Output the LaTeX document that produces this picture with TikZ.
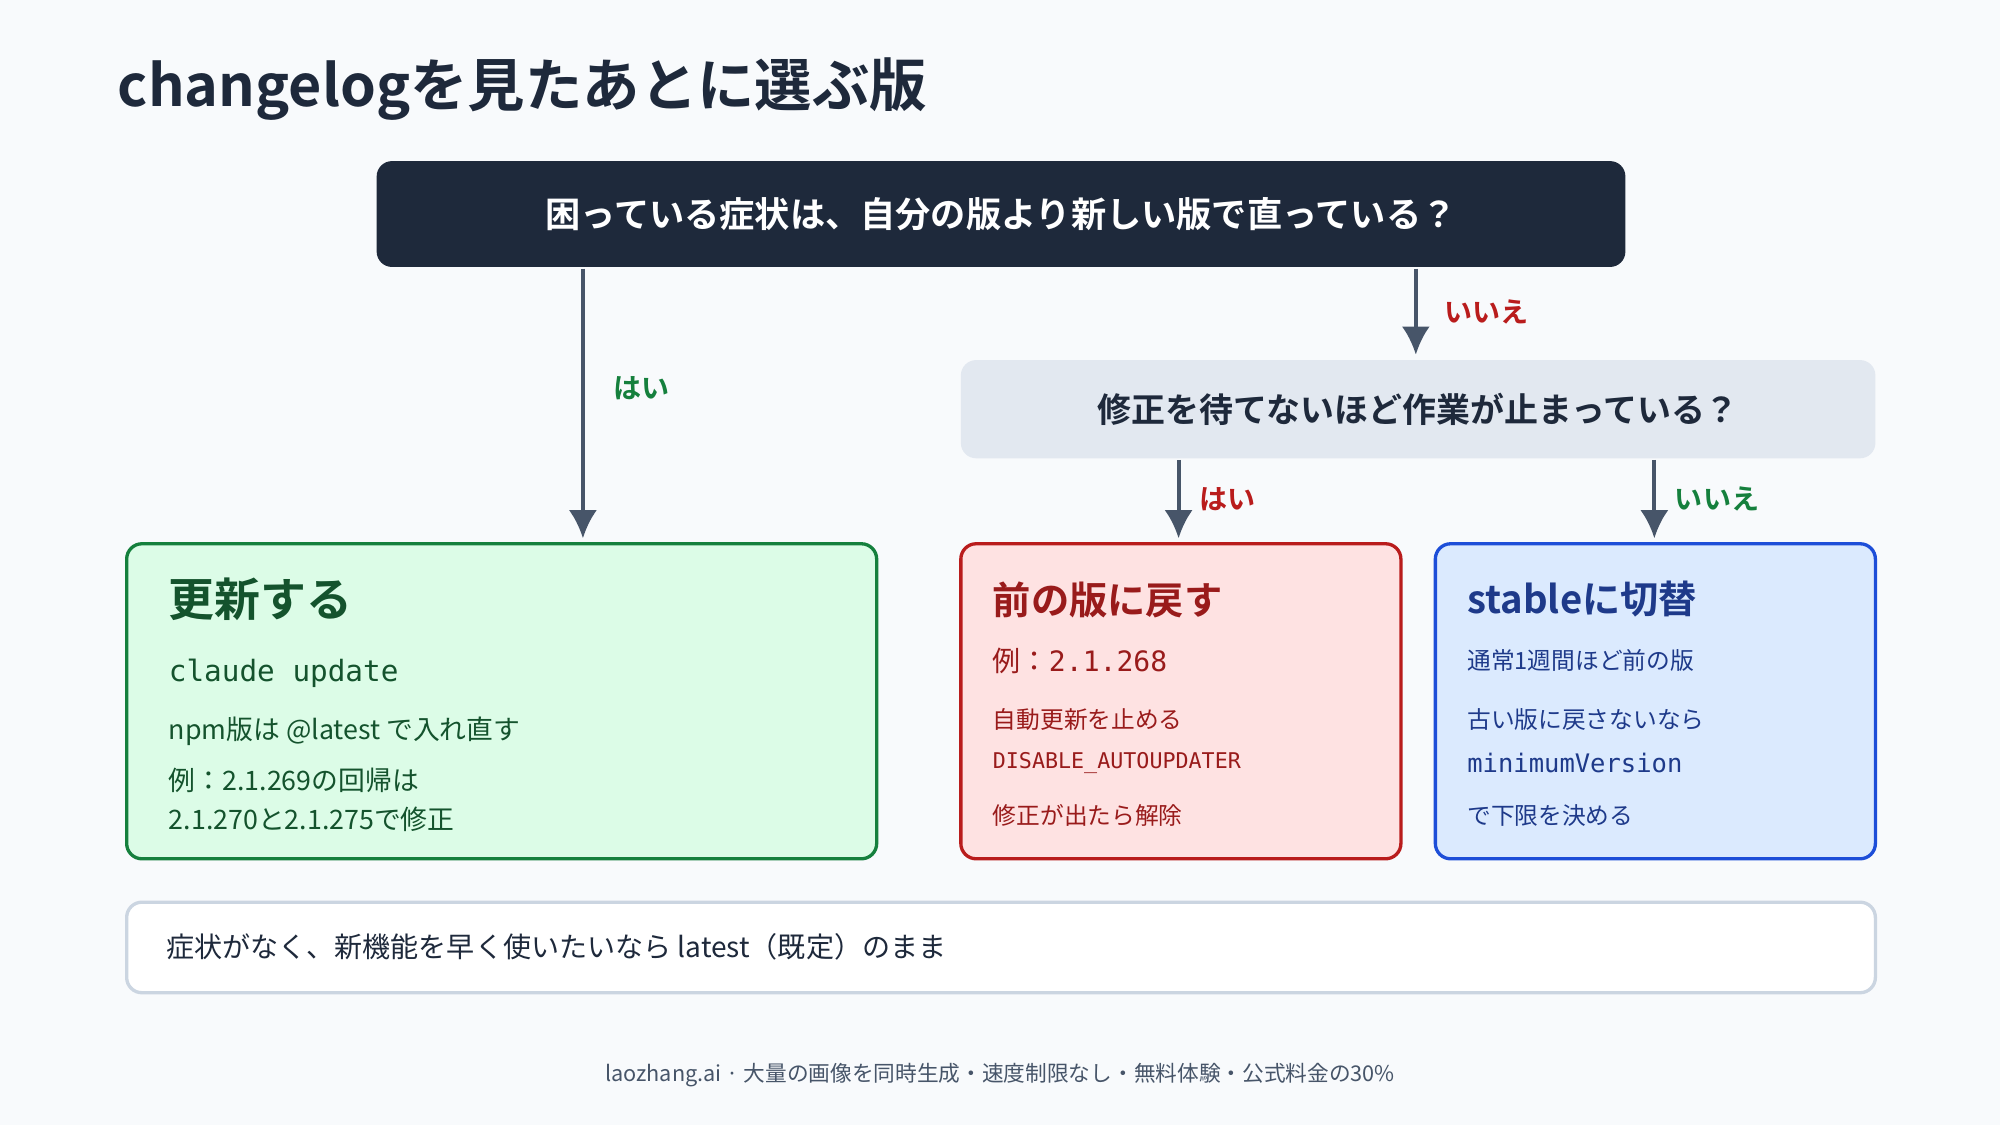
\documentclass[tikz,border=0pt]{standalone}
\usepackage{fontspec}
\setmainfont{Noto Sans CJK JP}[BoldFont={Noto Sans CJK JP Bold}]
\setmonofont{DejaVu Sans Mono}
\usetikzlibrary{positioning}
\usetikzlibrary{arrows.meta}
\definecolor{navy}{HTML}{1E293B}
\definecolor{slate}{HTML}{475569}
\definecolor{pagebg}{HTML}{F8FAFC}
\definecolor{q2bg}{HTML}{E2E8F0}
\definecolor{noteln}{HTML}{CBD5E1}
\definecolor{greenbg}{HTML}{DCFCE7}
\definecolor{greenln}{HTML}{15803D}
\definecolor{greentx}{HTML}{14532D}
\definecolor{redbg}{HTML}{FEE2E2}
\definecolor{redln}{HTML}{B91C1C}
\definecolor{redtx}{HTML}{991B1B}
\definecolor{bluebg}{HTML}{DBEAFE}
\definecolor{blueln}{HTML}{1D4ED8}
\definecolor{bluetx}{HTML}{1E3A8A}
\tikzset{>={Latex[width=11pt,length=11pt]}}
\tikzset{
  box/.style={draw, rounded corners=6pt, line width=1.3pt, anchor=north west, inner sep=0pt},
  arr/.style={draw=slate, line width=1.5pt, ->},
  lab/.style={font=\fontsize{11}{13}\selectfont\bfseries, anchor=west},
  txt/.style={anchor=west, inner sep=0pt, font=\fontsize{10.5}{12}\selectfont},
  mono/.style={anchor=west, inner sep=0pt, font=\fontsize{11.5}{13}\selectfont\ttfamily},
  head/.style={anchor=west, inner sep=0pt, font=\fontsize{18}{20}\selectfont\bfseries},
  small/.style={txt, font=\fontsize{9.3}{11}\selectfont},
}
\begin{document}
\begin{tikzpicture}[x=0.5pt,y=-0.5pt]
\fill[pagebg] (0,0) rectangle (1568,882);
\useasboundingbox (0,0) rectangle (1568,882);
\node (title) [anchor=west, inner sep=0pt, text=navy, font=\fontsize{22.5}{24}\selectfont\bfseries] at (92,70) {changelogを見たあとに選ぶ版};
% questions
\node (q1) [box, draw=none, fill=navy, minimum width=979*0.5pt, minimum height=83*0.5pt, text=white,
  font=\fontsize{13.8}{15}\selectfont\bfseries] at (294,125) {困っている症状は、自分の版より新しい版で直っている？};
\node (q2) [box, draw=none, fill=q2bg, minimum width=717*0.5pt, minimum height=77*0.5pt, text=navy,
  font=\fontsize{13.3}{15}\selectfont\bfseries] at (752,281) {修正を待てないほど作業が止まっている？};
% answers
\node (upd) [box, draw=greenln, fill=greenbg, minimum width=588*0.5pt, minimum height=247*0.5pt] at (98,425) {};
\node (back) [box, draw=redln, fill=redbg, minimum width=345*0.5pt, minimum height=247*0.5pt] at (752,425) {};
\node (stab) [box, draw=blueln, fill=bluebg, minimum width=345*0.5pt, minimum height=247*0.5pt] at (1124,425) {};
\node (note) [box, draw=noteln, fill=white, minimum width=1371*0.5pt, minimum height=71*0.5pt] at (98,706) {};

\node (updh) [head, text=greentx] at (132,470) {更新する};
\node (upd1) [mono, text=greentx] at (132,528) {claude update};
\node (upd2) [txt, text=greentx] at (132,573) {npm版は @latest で入れ直す};
\node (upd3) [txt, text=greentx] at (132,612) {例：2.1.269の回帰は};
\node (upd4) [txt, text=greentx] at (132,642) {2.1.270と2.1.275で修正};

\node (backh) [head, font=\fontsize{15}{17}\selectfont\bfseries, text=redtx] at (778,470) {前の版に戻す};
\node (back1) [txt, font=\fontsize{11}{13}\selectfont, text=redtx] at (778,518) {例：\texttt{2.1.268}};
\node (back2) [small, text=redtx] at (778,564) {自動更新を止める};
\node (back3) [mono, font=\fontsize{8.5}{10}\selectfont\ttfamily, text=redtx] at (778,598) {DISABLE\_AUTOUPDATER};
\node (back4) [small, text=redtx] at (778,639) {修正が出たら解除};

\node (stabh) [head, font=\fontsize{15}{17}\selectfont\bfseries, text=bluetx] at (1150,470) {stableに切替};
\node (stab1) [small, text=bluetx] at (1150,518) {通常1週間ほど前の版};
\node (stab2) [small, text=bluetx] at (1150,564) {古い版に戻さないなら};
\node (stab3) [mono, font=\fontsize{10}{12}\selectfont\ttfamily, text=bluetx] at (1150,598) {minimumVersion};
\node (stab4) [small, text=bluetx] at (1150,639) {で下限を決める};

\node (notet) [txt, font=\fontsize{11}{13}\selectfont, text=navy] at (130,742) {症状がなく、新機能を早く使いたいなら latest（既定）のまま};
\node (foot) [inner sep=0pt, text=slate, font=\fontsize{8.5}{10}\selectfont] at (784,843) {laozhang.ai · 大量の画像を同時生成・速度制限なし・無料体験・公式料金の30\%};

% connectors
\coordinate (a1) at (457,422);
\coordinate (a2) at (1110,278);
\coordinate (a3) at (924,422);
\coordinate (a4) at (1297,422);
\path [arr] (q1.south -| a1) -- node [lab, text=greenln, xshift=8pt, yshift=6pt] {はい} (a1);
\path [arr] (q1.south -| a2) -- node [lab, text=redln, xshift=7pt] {いいえ} (a2);
\path [arr] (q2.south -| a3) -- node [lab, text=redln, xshift=4pt] {はい} (a3);
\path [arr] (q2.south -| a4) -- node [lab, text=greenln, xshift=4pt] {いいえ} (a4);
\end{tikzpicture}
\end{document}
